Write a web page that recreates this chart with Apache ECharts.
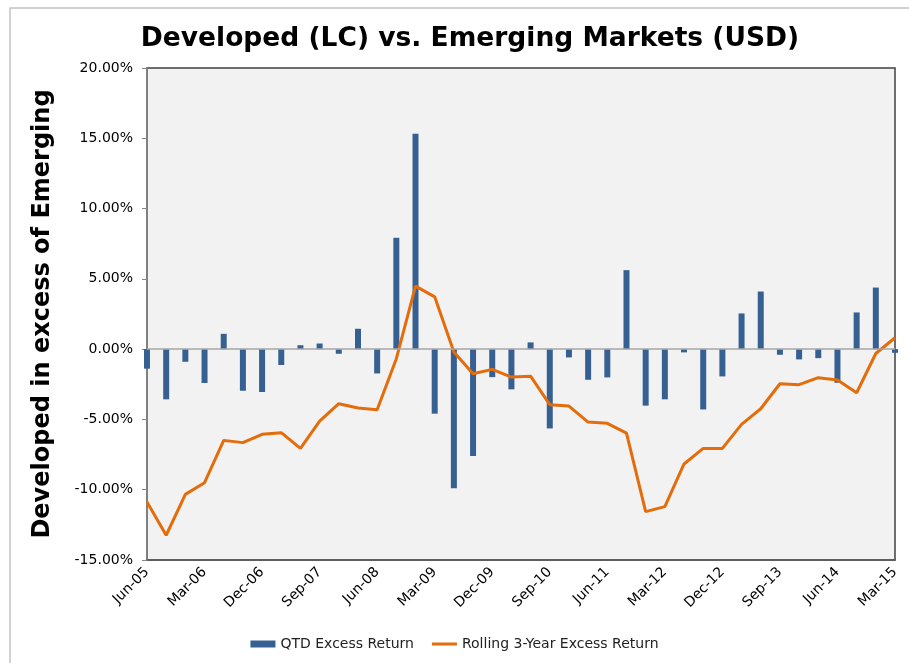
<!DOCTYPE html>
<html>
<head>
<meta charset="utf-8">
<script src="https://cdn.jsdelivr.net/npm/echarts@6/dist/echarts.min.js"></script>
<style>
html,body{margin:0;padding:0;background:#fff;}
#chart{width:909px;height:663px;}
</style>
</head>
<body>
<div id="chart"></div>
<script>
// quarters Jun-05 .. Mar-15
var quarters = ['Jun-05','Sep-05','Dec-05','Mar-06','Jun-06','Sep-06','Dec-06','Mar-07','Jun-07','Sep-07',
    'Dec-07','Mar-08','Jun-08','Sep-08','Dec-08','Mar-09','Jun-09','Sep-09','Dec-09','Mar-10',
    'Jun-10','Sep-10','Dec-10','Mar-11','Jun-11','Sep-11','Dec-11','Mar-12','Jun-12','Sep-12',
    'Dec-12','Mar-13','Jun-13','Sep-13','Dec-13','Mar-14','Jun-14','Sep-14','Dec-14','Mar-15'];

// QTD excess return (%)
var qtdExcess = [-1.39,-3.57,-0.90,-2.41,1.09,-2.96,-3.05,-1.13,0.28,0.40,
    -0.33,1.45,-1.73,7.92,15.33,-4.59,-9.90,-7.60,-1.99,-2.86,
    0.48,-5.64,-0.59,-2.18,-2.01,5.62,-4.02,-3.57,-0.23,-4.29,
    -1.94,2.54,4.10,-0.40,-0.73,-0.64,-2.39,2.61,4.38,-0.26];

// rolling 3-year excess return (%)
var rolling3y = [-10.87,-13.24,-10.33,-9.50,-6.49,-6.65,-6.06,-5.94,-7.06,-5.12,
    -3.88,-4.19,-4.31,-0.68,4.48,3.72,-0.21,-1.75,-1.44,-1.99,
    -1.92,-3.95,-4.05,-5.19,-5.28,-5.97,-11.56,-11.20,-8.17,-7.06,
    -7.06,-5.35,-4.24,-2.46,-2.53,-2.03,-2.20,-3.10,-0.31,0.81];

var yMin = -15, yMax = 20, yStep = 5;

var chart = echarts.init(document.getElementById('chart'));

var option = {
    backgroundColor: '#ffffff',
    textStyle: {fontFamily: 'DejaVu Sans'},
    title: {
        text: 'Developed (LC) vs. Emerging Markets (USD)',
        left: 465,
        textAlign: 'center',
        top: 21,
        textStyle: {fontFamily: 'DejaVu Sans', fontWeight: 'bold', fontSize: 26.5, color: '#000'}
    },
    graphic: [{
        type: 'rect',
        shape: {x: 10, y: 8, width: 930, height: 690},
        style: {fill: 'none', stroke: '#c4c4c4', lineWidth: 1.5},
        silent: true,
        z: -10
    }],
    legend: {
        bottom: 7,
        left: 'center',
        itemWidth: 25,
        itemHeight: 7,
        itemGap: 18,
        textStyle: {fontSize: 14, color: '#222'},
        data: [
            {name: 'QTD Excess Return', icon: 'rect'},
            {name: 'Rolling 3-Year Excess Return', icon: 'path://M0,0L25,0L25,3L0,3Z'}
        ]
    },
    grid: {
        left: 147, right: 14, top: 68, bottom: 103,
        show: true,
        backgroundColor: '#f2f2f2',
        borderColor: '#404040',
        borderWidth: 1.5
    },
    xAxis: {
        type: 'category',
        data: quarters,
        boundaryGap: false,
        axisLine: {onZero: false, lineStyle: {color: '#595959', width: 1.5}},
        axisTick: {show: false},
        axisLabel: {
            interval: 2,
            rotate: 45,
            fontSize: 14,
            color: '#000',
            margin: 10
        },
        splitLine: {show: false}
    },
    yAxis: {
        type: 'value',
        min: yMin,
        max: yMax,
        interval: yStep,
        name: 'Developed in excess of Emerging',
        nameLocation: 'middle',
        nameGap: 92,
        nameTextStyle: {fontFamily: 'DejaVu Sans', fontWeight: 'bold', fontSize: 24, color: '#000'},
        axisLine: {show: true, lineStyle: {color: '#868686', width: 1.5}},
        axisTick: {show: true, inside: false, length: 5, lineStyle: {color: '#868686'}},
        axisLabel: {
            fontSize: 14,
            color: '#000',
            margin: 14,
            formatter: function (v) { return v.toFixed(2) + '%'; }
        },
        splitLine: {show: false}
    },
    series: [
        {
            name: 'QTD Excess Return',
            type: 'bar',
            data: qtdExcess,
            barWidth: 6,
            itemStyle: {color: '#376092'},
            markLine: {
                silent: true,
                symbol: 'none',
                label: {show: false},
                lineStyle: {color: '#a6a6a6', width: 1.5, type: 'solid'},
                data: [{yAxis: 0}]
            },
            z: 2
        },
        {
            name: 'Rolling 3-Year Excess Return',
            type: 'line',
            data: rolling3y,
            symbol: 'none',
            lineStyle: {color: '#e46c0a', width: 3},
            itemStyle: {color: '#e46c0a'},
            z: 3
        }
    ]
};

chart.setOption(option);
</script>
</body>
</html>
